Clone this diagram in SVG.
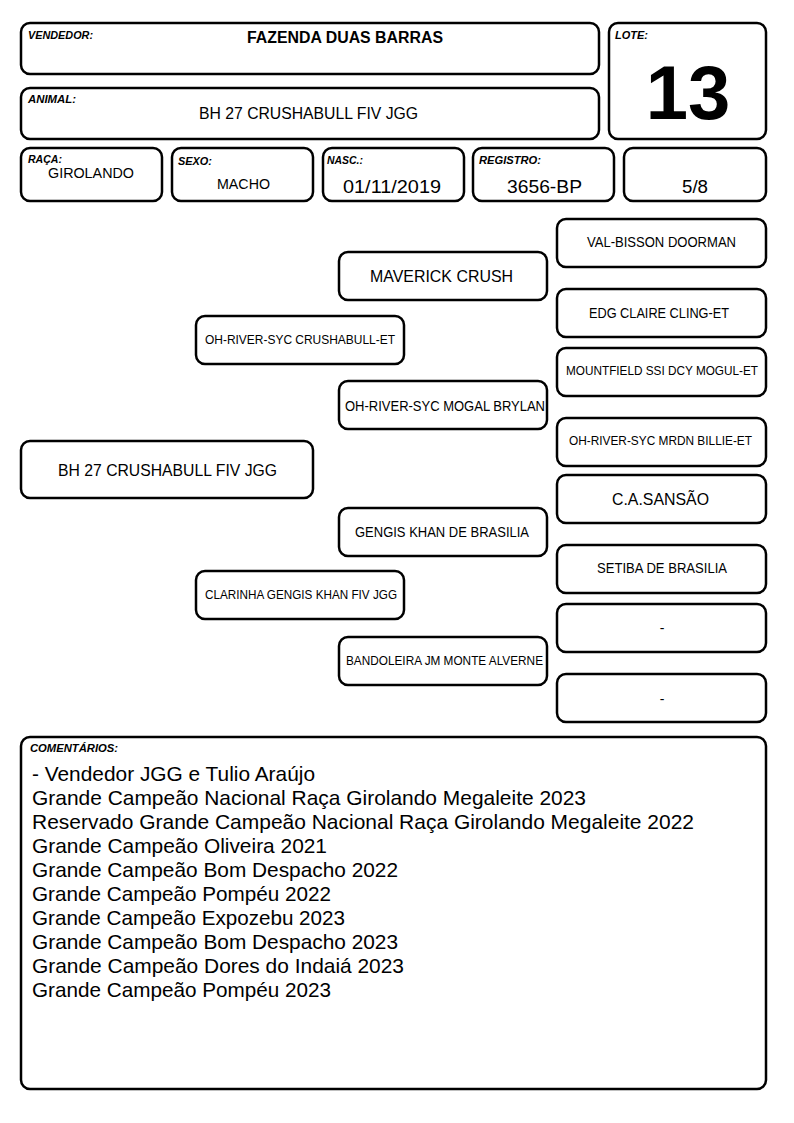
<svg xmlns="http://www.w3.org/2000/svg" width="794" height="1123" viewBox="0 0 794 1123">
<style>
.b{fill:#fff;stroke:#000;stroke-width:2.5}
.lb{font-family:"Liberation Sans",Arial,sans-serif;font-weight:bold;font-style:italic;font-size:10px;fill:#000}
.t{font-family:"Liberation Sans",Arial,sans-serif;fill:#000;text-anchor:middle}
.c{font-family:"Liberation Sans",Arial,sans-serif;fill:#000;font-size:21px}
</style>
<rect width="794" height="1123" fill="#fff"/>
<g id="vendedor">
<rect class="b" x="21" y="23" width="578" height="51" rx="9"/>
<text class="lb" x="28" y="39" textLength="65" lengthAdjust="spacingAndGlyphs">VENDEDOR:</text>
<text class="t" x="345" y="43" font-size="16" font-weight="bold" textLength="196" lengthAdjust="spacingAndGlyphs">FAZENDA DUAS BARRAS</text>
</g>
<g id="animal">
<rect class="b" x="21" y="88" width="578" height="51" rx="9"/>
<text class="lb" x="28" y="103" textLength="48" lengthAdjust="spacingAndGlyphs">ANIMAL:</text>
<text class="t" x="308.5" y="119" font-size="16" textLength="219" lengthAdjust="spacingAndGlyphs">BH 27 CRUSHABULL FIV JGG</text>
</g>
<g id="lote">
<rect class="b" x="609" y="23" width="157" height="116" rx="9"/>
<text class="lb" x="615" y="39" textLength="33" lengthAdjust="spacingAndGlyphs">LOTE:</text>
<text class="t" x="688" y="119" font-size="76" font-weight="bold">13</text>
</g>
<g id="raca">
<rect class="b" x="21" y="148" width="141" height="53" rx="9"/>
<text class="lb" x="28" y="163" textLength="34" lengthAdjust="spacingAndGlyphs">RAÇA:</text>
<text class="t" x="91" y="178" font-size="15" textLength="86" lengthAdjust="spacingAndGlyphs">GIROLANDO</text>
</g>
<g id="sexo">
<rect class="b" x="172" y="148" width="141" height="53" rx="9"/>
<text class="lb" x="178" y="165" textLength="34" lengthAdjust="spacingAndGlyphs">SEXO:</text>
<text class="t" x="243.5" y="189" font-size="15" textLength="53" lengthAdjust="spacingAndGlyphs">MACHO</text>
</g>
<g id="nasc">
<rect class="b" x="323" y="148" width="141" height="53" rx="9"/>
<text class="lb" x="327" y="164" textLength="36" lengthAdjust="spacingAndGlyphs">NASC.:</text>
<text class="t" x="392" y="193" font-size="18" textLength="98" lengthAdjust="spacingAndGlyphs">01/11/2019</text>
</g>
<g id="registro">
<rect class="b" x="473" y="148" width="141" height="53" rx="9"/>
<text class="lb" x="479" y="164" textLength="62" lengthAdjust="spacingAndGlyphs">REGISTRO:</text>
<text class="t" x="544.5" y="193" font-size="18" textLength="75" lengthAdjust="spacingAndGlyphs">3656-BP</text>
</g>
<g id="grau">
<rect class="b" x="624" y="148" width="142" height="53" rx="9"/>
<text class="t" x="695" y="193" font-size="18" textLength="26" lengthAdjust="spacingAndGlyphs">5/8</text>
</g>
<g id="p-main">
<rect class="b" x="21" y="441" width="292" height="57" rx="9"/>
<text class="t" x="167.5" y="476" font-size="17" textLength="219" lengthAdjust="spacingAndGlyphs">BH 27 CRUSHABULL FIV JGG</text>
</g>
<g id="p-sire">
<rect class="b" x="196" y="316" width="208" height="48" rx="9"/>
<text class="t" x="300" y="344" font-size="13.5" textLength="190" lengthAdjust="spacingAndGlyphs">OH-RIVER-SYC CRUSHABULL-ET</text>
</g>
<g id="p-dam">
<rect class="b" x="196" y="571" width="208" height="48" rx="9"/>
<text class="t" x="301" y="599" font-size="13.5" textLength="192" lengthAdjust="spacingAndGlyphs">CLARINHA GENGIS KHAN FIV JGG</text>
</g>
<g id="p-ss">
<rect class="b" x="339" y="252" width="208" height="48" rx="9"/>
<text class="t" x="441.5" y="282" font-size="17" textLength="143" lengthAdjust="spacingAndGlyphs">MAVERICK CRUSH</text>
</g>
<g id="p-sd">
<rect class="b" x="339" y="381" width="208" height="48" rx="9"/>
<text class="t" x="445" y="411" font-size="14.5" textLength="200" lengthAdjust="spacingAndGlyphs">OH-RIVER-SYC MOGAL BRYLAN</text>
</g>
<g id="p-ds">
<rect class="b" x="339" y="508" width="208" height="48" rx="9"/>
<text class="t" x="442" y="537" font-size="14" textLength="174" lengthAdjust="spacingAndGlyphs">GENGIS KHAN DE BRASILIA</text>
</g>
<g id="p-dd">
<rect class="b" x="339" y="637" width="208" height="48" rx="9"/>
<text class="t" x="444.5" y="665" font-size="13.5" textLength="197" lengthAdjust="spacingAndGlyphs">BANDOLEIRA JM MONTE ALVERNE</text>
</g>
<g id="p-sss">
<rect class="b" x="557" y="219" width="209" height="48" rx="9"/>
<text class="t" x="661.5" y="247" font-size="14" textLength="149" lengthAdjust="spacingAndGlyphs">VAL-BISSON DOORMAN</text>
</g>
<g id="p-ssd">
<rect class="b" x="557" y="289" width="209" height="48" rx="9"/>
<text class="t" x="659" y="318" font-size="14" textLength="140" lengthAdjust="spacingAndGlyphs">EDG CLAIRE CLING-ET</text>
</g>
<g id="p-sds">
<rect class="b" x="557" y="348" width="209" height="48" rx="9"/>
<text class="t" x="662" y="375" font-size="13.5" textLength="192" lengthAdjust="spacingAndGlyphs">MOUNTFIELD SSI DCY MOGUL-ET</text>
</g>
<g id="p-sdd">
<rect class="b" x="557" y="418" width="209" height="48" rx="9"/>
<text class="t" x="660.5" y="445" font-size="13.5" textLength="183" lengthAdjust="spacingAndGlyphs">OH-RIVER-SYC MRDN BILLIE-ET</text>
</g>
<g id="p-dss">
<rect class="b" x="557" y="475" width="209" height="48" rx="9"/>
<text class="t" x="660.5" y="505" font-size="17" textLength="97" lengthAdjust="spacingAndGlyphs">C.A.SANSÃO</text>
</g>
<g id="p-dsd">
<rect class="b" x="557" y="545" width="209" height="48" rx="9"/>
<text class="t" x="662" y="573" font-size="14" textLength="130" lengthAdjust="spacingAndGlyphs">SETIBA DE BRASILIA</text>
</g>
<g id="p-dds">
<rect class="b" x="557" y="604" width="209" height="48" rx="9"/>
<text class="t" x="662" y="633" font-size="14">-</text>
</g>
<g id="p-ddd">
<rect class="b" x="557" y="674" width="209" height="48" rx="9"/>
<text class="t" x="662" y="704" font-size="14">-</text>
</g>
<g id="comentarios">
<rect class="b" x="21" y="737" width="745" height="352" rx="9"/>
<text class="lb" x="30" y="752" textLength="88" lengthAdjust="spacingAndGlyphs">COMENTÁRIOS:</text>
<text class="c" x="32" y="781" textLength="283" lengthAdjust="spacingAndGlyphs">- Vendedor JGG e Tulio Araújo</text>
<text class="c" x="32" y="805" textLength="554" lengthAdjust="spacingAndGlyphs">Grande Campeão Nacional Raça Girolando Megaleite 2023</text>
<text class="c" x="32" y="829" textLength="662" lengthAdjust="spacingAndGlyphs">Reservado Grande Campeão Nacional Raça Girolando Megaleite 2022</text>
<text class="c" x="32" y="853" textLength="295" lengthAdjust="spacingAndGlyphs">Grande Campeão Oliveira 2021</text>
<text class="c" x="32" y="877" textLength="366" lengthAdjust="spacingAndGlyphs">Grande Campeão Bom Despacho 2022</text>
<text class="c" x="32" y="901" textLength="299" lengthAdjust="spacingAndGlyphs">Grande Campeão Pompéu 2022</text>
<text class="c" x="32" y="925" textLength="313" lengthAdjust="spacingAndGlyphs">Grande Campeão Expozebu 2023</text>
<text class="c" x="32" y="949" textLength="366" lengthAdjust="spacingAndGlyphs">Grande Campeão Bom Despacho 2023</text>
<text class="c" x="32" y="973" textLength="372" lengthAdjust="spacingAndGlyphs">Grande Campeão Dores do Indaiá 2023</text>
<text class="c" x="32" y="997" textLength="299" lengthAdjust="spacingAndGlyphs">Grande Campeão Pompéu 2023</text>
</g>
</svg>
